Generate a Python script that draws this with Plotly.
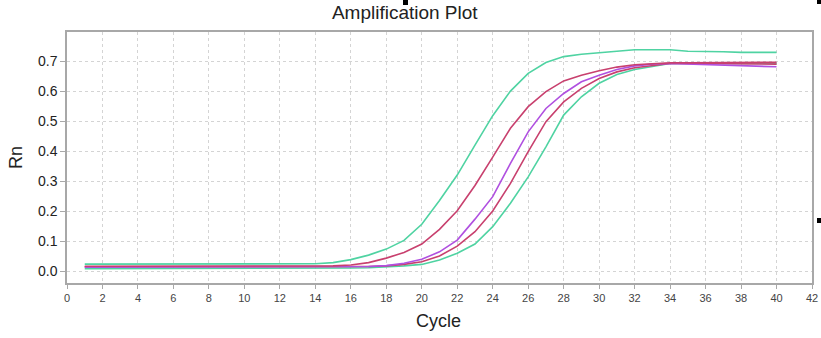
import plotly.graph_objects as go

cycles = list(range(1, 41))

green_early = [0.023, 0.023, 0.023, 0.023, 0.023, 0.023, 0.023, 0.023, 0.023, 0.023,
               0.023, 0.023, 0.023, 0.024, 0.028, 0.038, 0.053, 0.073, 0.102, 0.156,
               0.235, 0.320, 0.420, 0.518, 0.600, 0.659, 0.695, 0.715, 0.723, 0.728,
               0.733, 0.738, 0.738, 0.738, 0.733, 0.733, 0.731, 0.729, 0.729, 0.729]

red_early = [0.016, 0.016, 0.017, 0.016, 0.016, 0.016, 0.016, 0.016, 0.016, 0.016,
             0.016, 0.016, 0.016, 0.016, 0.017, 0.020, 0.028, 0.043, 0.062, 0.090,
             0.139, 0.201, 0.285, 0.380, 0.476, 0.548, 0.598, 0.634, 0.653, 0.668,
             0.680, 0.688, 0.692, 0.694, 0.694, 0.694, 0.695, 0.695, 0.696, 0.696]

purple_mid = [0.013, 0.013, 0.013, 0.013, 0.013, 0.013, 0.013, 0.013, 0.013, 0.013,
              0.013, 0.013, 0.013, 0.013, 0.013, 0.014, 0.015, 0.018, 0.026, 0.039,
              0.064, 0.103, 0.173, 0.248, 0.359, 0.464, 0.542, 0.592, 0.631, 0.653,
              0.672, 0.684, 0.690, 0.692, 0.690, 0.688, 0.686, 0.685, 0.683, 0.681]

red_late = [0.014, 0.014, 0.014, 0.014, 0.014, 0.014, 0.014, 0.014, 0.014, 0.014,
            0.014, 0.014, 0.014, 0.014, 0.014, 0.014, 0.015, 0.017, 0.022, 0.031,
            0.050, 0.083, 0.131, 0.200, 0.292, 0.398, 0.498, 0.564, 0.609, 0.642,
            0.664, 0.678, 0.686, 0.692, 0.692, 0.692, 0.692, 0.691, 0.691, 0.690]

green_late = [0.008, 0.008, 0.008, 0.008, 0.008, 0.008, 0.008, 0.008, 0.008, 0.008,
              0.008, 0.008, 0.008, 0.008, 0.009, 0.010, 0.011, 0.013, 0.017, 0.022,
              0.037, 0.059, 0.090, 0.148, 0.226, 0.314, 0.414, 0.520, 0.581, 0.626,
              0.655, 0.672, 0.683, 0.692, 0.692, 0.692, 0.692, 0.692, 0.692, 0.692]

series = [
    ("green_late", green_late, "#4fd3a2"),
    ("red_late", red_late, "#c8406e"),
    ("purple_mid", purple_mid, "#b050e0"),
    ("red_early", red_early, "#c8406e"),
    ("green_early", green_early, "#4fd3a2"),
]

x_ticks = list(range(0, 43, 2))
y_ticks = [0.0, 0.1, 0.2, 0.3, 0.4, 0.5, 0.6, 0.7]

fig = go.Figure()
for name, vals, col in series:
    fig.add_trace(go.Scatter(x=cycles, y=vals, mode="lines", name=name,
                             line=dict(color=col, width=1.6), showlegend=False))

font_family = "Liberation Sans, Arial, sans-serif"

fig.update_layout(
    width=821, height=338,
    margin=dict(l=67, r=9, t=32, b=55, autoexpand=False),
    paper_bgcolor="white", plot_bgcolor="white",
    font=dict(family=font_family, color="#222"),
    title=dict(text="Amplification Plot", x=0.493, xref="container", xanchor="center",
               y=1 - 12 / 338, yref="container", yanchor="middle",
               font=dict(size=19, color="#222", family=font_family)),
    xaxis=dict(range=[0, 42], tickvals=x_ticks, ticktext=[str(v) for v in x_ticks],
               automargin=False,
               showgrid=True, gridcolor="#d4d4d4", griddash="3px,3px", gridwidth=1,
               zeroline=False, showline=True, linecolor="#a8a8a8", linewidth=1.5, mirror=True,
               ticks="outside", ticklen=4, tickcolor="#a8a8a8",
               tickfont=dict(size=11, color="#444")),
    yaxis=dict(range=[-0.04, 0.797], tickvals=y_ticks, ticktext=[f"{v:.1f}" for v in y_ticks],
               automargin=False,
               showgrid=True, gridcolor="#d4d4d4", griddash="3px,3px", gridwidth=1,
               zeroline=False, showline=True, linecolor="#a8a8a8", linewidth=1.5, mirror=True,
               ticks="outside", ticklen=5, tickcolor="#a8a8a8",
               tickfont=dict(size=14, color="#222")),
    annotations=[
        dict(text="Cycle", x=0.498, y=(283 - 321) / 251, xref="paper", yref="paper",
             xanchor="center", yanchor="middle", showarrow=False,
             font=dict(size=18, color="#222", family=font_family)),
        dict(text="Rn", x=(15.5 - 67) / 745, y=0.5, xref="paper", yref="paper",
             xanchor="center", yanchor="middle", showarrow=False, textangle=-90,
             font=dict(size=18, color="#222", family=font_family)),
    ],
    shapes=[
        dict(type="rect", xref="paper", yref="paper", line=dict(width=0), fillcolor="black",
             x0=(403 - 67) / 745, x1=(408 - 67) / 745, y0=(283 - 5) / 251, y1=283 / 251),
        dict(type="rect", xref="paper", yref="paper", line=dict(width=0), fillcolor="black",
             x0=(817 - 67) / 745, x1=(821 - 67) / 745, y0=(283 - 4) / 251, y1=283 / 251),
        dict(type="rect", xref="paper", yref="paper", line=dict(width=0), fillcolor="black",
             x0=(817 - 67) / 745, x1=(821 - 67) / 745, y0=(283 - 223) / 251, y1=(283 - 218) / 251),
    ],
)

fig.write_html("out.html")
